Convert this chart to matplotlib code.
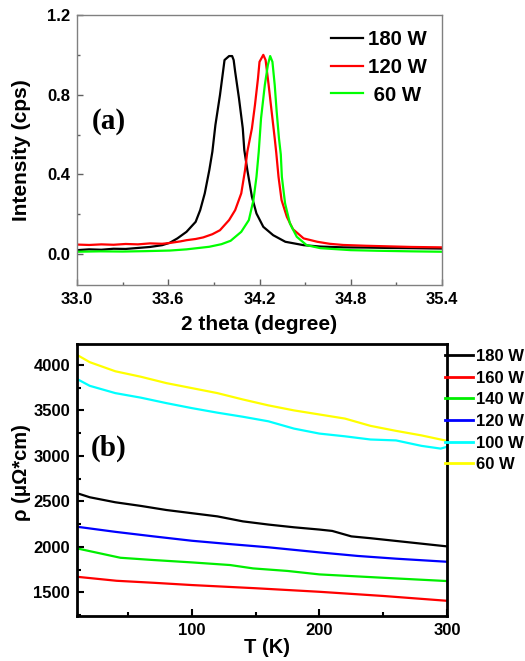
import matplotlib
matplotlib.use("Agg")
import matplotlib.pyplot as plt
from matplotlib.ticker import MultipleLocator

plt.rcParams['font.family'] = ['Liberation Sans', 'DejaVu Sans']
plt.rcParams['font.weight'] = 'bold'

# ---------------- Panel (a) data: XRD peaks ----------------
tt_180 = [33.00, 33.08, 33.16, 33.24, 33.32, 33.40, 33.48, 33.56, 33.61, 33.66, 33.72, 33.78,
          33.81, 33.84, 33.87, 33.89, 33.91, 33.94, 33.96, 33.97, 34.00, 34.02, 34.03, 34.04,
          34.065, 34.09, 34.10, 34.12, 34.15, 34.18, 34.225, 34.29, 34.37, 34.49, 34.60, 34.75,
          34.90, 35.05, 35.20, 35.40]
int_180 = [0.020, 0.024, 0.022, 0.027, 0.026, 0.031, 0.036, 0.045, 0.057, 0.079, 0.112, 0.162,
           0.221, 0.305, 0.422, 0.514, 0.648, 0.798, 0.915, 0.974, 0.994, 0.994, 0.974, 0.915,
           0.782, 0.631, 0.522, 0.422, 0.288, 0.204, 0.137, 0.095, 0.062, 0.045, 0.038, 0.034,
           0.033, 0.031, 0.030, 0.028]

tt_120 = [33.00, 33.08, 33.16, 33.24, 33.32, 33.40, 33.48, 33.56, 33.61, 33.68, 33.72, 33.78,
          33.83, 33.89, 33.94, 34.00, 34.04, 34.08, 34.105, 34.12, 34.15, 34.17, 34.19, 34.20,
          34.225, 34.24, 34.26, 34.28, 34.30, 34.31, 34.325, 34.345, 34.38, 34.42, 34.49, 34.58,
          34.66, 34.75, 34.90, 35.05, 35.20, 35.40]
int_120 = [0.048, 0.046, 0.049, 0.047, 0.051, 0.049, 0.054, 0.052, 0.056, 0.064, 0.070, 0.076,
           0.084, 0.100, 0.120, 0.171, 0.221, 0.305, 0.422, 0.514, 0.631, 0.748, 0.882, 0.965,
           1.000, 0.974, 0.849, 0.714, 0.581, 0.510, 0.388, 0.271, 0.187, 0.125, 0.079, 0.062,
           0.052, 0.046, 0.042, 0.039, 0.036, 0.034]

tt_60 = [33.00, 33.15, 33.30, 33.45, 33.61, 33.72, 33.87, 33.95, 34.01, 34.08, 34.13, 34.16,
         34.18, 34.195, 34.21, 34.235, 34.255, 34.27, 34.285, 34.30, 34.313, 34.328, 34.34,
         34.347, 34.368, 34.40, 34.445, 34.51, 34.60, 34.80, 34.97, 35.20, 35.40]
int_60 = [0.012, 0.014, 0.013, 0.015, 0.018, 0.024, 0.037, 0.050, 0.067, 0.112, 0.171, 0.271,
          0.388, 0.514, 0.681, 0.849, 0.949, 0.994, 0.965, 0.849, 0.714, 0.581, 0.500,
          0.388, 0.255, 0.154, 0.087, 0.045, 0.030, 0.020, 0.017, 0.014, 0.012]

# ---------------- Panel (b) data: resistivity vs T ----------------
T_180 = [10, 20, 40, 60, 80, 100, 120, 140, 160, 180, 200, 210, 225, 240, 260, 280, 300]
rho_180 = [2590, 2545, 2490, 2450, 2405, 2370, 2335, 2280, 2245, 2215, 2190, 2175, 2115, 2095,
           2065, 2035, 2005]
T_160 = [10, 41, 70, 100, 150, 200, 250, 300]
rho_160 = [1671, 1627, 1605, 1580, 1545, 1506, 1460, 1407]
T_140 = [10, 44, 70, 100, 130, 148, 175, 200, 250, 300]
rho_140 = [1983, 1880, 1855, 1829, 1800, 1763, 1735, 1697, 1660, 1624]
T_120 = [10, 40, 70, 100, 130, 160, 200, 230, 260, 300]
rho_120 = [2221, 2165, 2115, 2067, 2030, 1995, 1939, 1900, 1870, 1836]
T_100 = [10, 20, 40, 60, 80, 100, 120, 140, 160, 180, 200, 220, 240, 260, 280, 295, 300]
rho_100 = [3845, 3770, 3690, 3640, 3580, 3525, 3475, 3430, 3380, 3300, 3245, 3215, 3180, 3170,
           3110, 3080, 3100]
T_60 = [10, 20, 40, 60, 80, 100, 120, 140, 160, 180, 200, 220, 240, 260, 280, 300]
rho_60 = [4110, 4030, 3930, 3870, 3800, 3745, 3690, 3620, 3555, 3500, 3455, 3410, 3330, 3275,
          3225, 3165]

fig = plt.figure(figsize=(5.25, 6.61), dpi=100)

# ---------------- Panel (a) ----------------
ax1 = fig.add_axes([0.1467, 0.5688, 0.6952, 0.4085])
ax1.plot(tt_180, int_180, color='black', lw=1.6, label='180 W')
ax1.plot(tt_120, int_120, color='#ff0000', lw=1.6, label='120 W')
ax1.plot(tt_60, int_60, color='#00ff00', lw=1.6, label=' 60 W')
ax1.set_xlim(33.0, 35.4)
ax1.set_ylim(-0.155, 1.2)
ax1.xaxis.set_major_locator(MultipleLocator(0.6))
ax1.xaxis.set_minor_locator(MultipleLocator(0.3))
ax1.yaxis.set_major_locator(MultipleLocator(0.4))
ax1.yaxis.set_minor_locator(MultipleLocator(0.2))
for s in ax1.spines.values():
    s.set_color('#808080')
    s.set_linewidth(1.0)
ax1.tick_params(which='both', direction='in', color='#606060', top=False, right=False,
                labelsize=12, pad=5)
ax1.tick_params(which='major', length=4, width=1)
ax1.tick_params(which='minor', length=2.5, width=1)
for lab in ax1.get_xticklabels() + ax1.get_yticklabels():
    lab.set_fontweight('bold')
ax1.set_xlabel('2 theta (degree)', fontsize=15, fontweight='bold')
ax1.set_ylabel('Intensity (cps)', fontsize=15, fontweight='bold')
ax1.xaxis.set_label_coords(0.5, -0.111)
ax1.xaxis.label.set_va('top')
ax1.yaxis.set_label_coords(-0.126, 0.5)
ax1.text(0.041, 0.604, '(a)', transform=ax1.transAxes, fontsize=21, fontweight='bold',
         family=['Liberation Serif', 'DejaVu Serif'], ha='left', va='center')
leg1 = ax1.legend(loc='upper left', bbox_to_anchor=(0.696, 0.943), frameon=False,
                  fontsize=14.7, handlelength=1.55, handletextpad=0.28, labelspacing=0.42,
                  borderpad=0, borderaxespad=0)
for t in leg1.get_texts():
    t.set_fontweight('bold')

# ---------------- Panel (b) ----------------
ax2 = fig.add_axes([0.1467, 0.0681, 0.7048, 0.4115])
ax2.plot(T_180, rho_180, color='black', lw=1.6, label='180 W')
ax2.plot(T_160, rho_160, color='#ff0000', lw=1.6, label='160 W')
ax2.plot(T_140, rho_140, color='#00ee00', lw=1.6, label='140 W')
ax2.plot(T_120, rho_120, color='#0000ff', lw=1.6, label='120 W')
ax2.plot(T_100, rho_100, color='#00ffff', lw=1.6, label='100 W')
ax2.plot(T_60, rho_60, color='#ffff00', lw=1.6, label='60 W')
ax2.set_xlim(10, 300)
ax2.set_ylim(1240, 4230)
ax2.xaxis.set_major_locator(MultipleLocator(100))
ax2.xaxis.set_minor_locator(MultipleLocator(50))
ax2.yaxis.set_major_locator(MultipleLocator(500))
ax2.yaxis.set_minor_locator(MultipleLocator(250))
for s in ax2.spines.values():
    s.set_color('black')
    s.set_linewidth(2.0)
ax2.tick_params(which='both', direction='in', color='black', top=False, right=False,
                labelsize=12, pad=5)
ax2.tick_params(which='major', length=5, width=1.5)
ax2.tick_params(which='minor', length=3, width=1.5)
for lab in ax2.get_xticklabels() + ax2.get_yticklabels():
    lab.set_fontweight('bold')
ax2.set_xlabel('T (K)', fontsize=14.5, fontweight='bold')
ax2.set_ylabel('ρ (μΩ*cm)', fontsize=14.5, fontweight='bold')
ax2.xaxis.set_label_coords(0.513, -0.082)
ax2.xaxis.label.set_va('top')
ax2.yaxis.set_label_coords(-0.125, 0.526)
ax2.text(0.037, 0.617, '(b)', transform=ax2.transAxes, fontsize=21, fontweight='bold',
         family=['Liberation Serif', 'DejaVu Serif'], ha='left', va='center')
leg2 = ax2.legend(loc='upper left', bbox_to_anchor=(0.9946, 0.982), frameon=False,
                  fontsize=12, handlelength=1.65, handletextpad=0.2, labelspacing=0.4,
                  borderpad=0, borderaxespad=0)
for t in leg2.get_texts():
    t.set_fontweight('bold')
for l in leg2.get_lines():
    l.set_linewidth(2.0)
leg2.set_clip_on(False)

fig.savefig('out.png', dpi=100)
